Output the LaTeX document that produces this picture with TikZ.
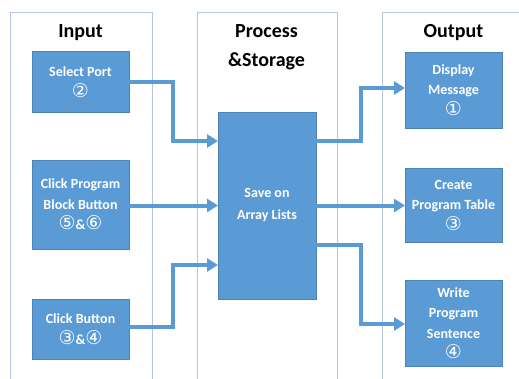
\documentclass[tikz,border=0pt]{standalone}
\usepackage{fontspec}
\setmainfont{Carlito}
\newfontfamily\circfont{DejaVu Sans}
\usetikzlibrary{arrows.meta}
\definecolor{boxblue}{RGB}{91,155,213}
\definecolor{panelline}{RGB}{178,198,220}
\newcommand{\cn}[1]{{\circfont\mdseries\fontsize{19}{20}\selectfont #1}}
\tikzset{
  panel/.style={draw=panelline, line width=0.8pt},
  stepbox/.style={fill=boxblue, draw=boxblue!85!black, line width=0.4pt,
    text=white, font=\bfseries\fontsize{14}{20.5}\selectfont,
    align=center, inner sep=0pt, outer sep=0pt},
  title/.style={font=\bfseries\fontsize{20}{29}\selectfont, align=center, text=black},
  flow/.style={draw=boxblue, line width=4pt,
    -{Triangle[length=11pt,width=13pt]}},
}
\begin{document}
\begin{tikzpicture}[x=1pt,y=-1pt]
\useasboundingbox (0,0) rectangle (519,378);
\fill[white] (0,0) rectangle (519,378);
\clip (0,0) rectangle (519,378);

% column panels
\draw[panel] (10,12) rectangle (152,400);
\draw[panel] (197,12) rectangle (337,400);
\draw[panel] (382,12) rectangle (540,400);

% column titles
\node[title] (tin)  at (80.5,33) {Input};
\node[title] (tps)  at (266.5,47) {Process\\\&Storage};
\node[title] (tout) at (453.5,33) {Output};

% input steps
\node[stepbox, minimum width=97pt, minimum height=61pt] (sel) at (80.5,82)
  {Select Port\\\cn{②}};
\node[stepbox, minimum width=97pt, minimum height=89pt] (blk) at (80.5,204.5)
  {Click Program\\Block Button\\\cn{⑤}\&\cn{⑥}};
\node[stepbox, minimum width=97pt, minimum height=60pt] (clk) at (80.5,329)
  {Click Button\\\cn{③}\&\cn{④}};

% storage
\node[stepbox, minimum width=98pt, minimum height=187pt] (save) at (267,205.5)
  {Save on\\[1.5pt]Array Lists};

% output steps
\node[stepbox, minimum width=97pt, minimum height=76pt] (disp) at (453.5,90)
  {Display\\Message\\\cn{①}};
\node[stepbox, minimum width=97pt, minimum height=74pt] (crt) at (453.5,205)
  {Create\\Program Table\\\cn{③}};
\node[stepbox, minimum width=97pt, minimum height=86pt] (wrt) at (453.5,323)
  {Write\\Program\\Sentence\\\cn{④}};

% connectors into storage
\draw[flow] (sel.east |- 0,82) -| (173,141) -- (save.west |- 0,141);
\draw[flow] (blk.east |- 0,205.5) -- (save.west |- 0,205.5);
\draw[flow] (clk.east |- 0,327) -| (173,265) -- (save.west |- 0,265);

% connectors out of storage
\draw[flow] (save.east |- 0,141) -| (361,88) -- (disp.west |- 0,88);
\draw[flow] (save.east |- 0,205.5) -- (crt.west |- 0,205.5);
\draw[flow] (save.east |- 0,245) -| (361,324) -- (wrt.west |- 0,324);
\end{tikzpicture}
\end{document}
